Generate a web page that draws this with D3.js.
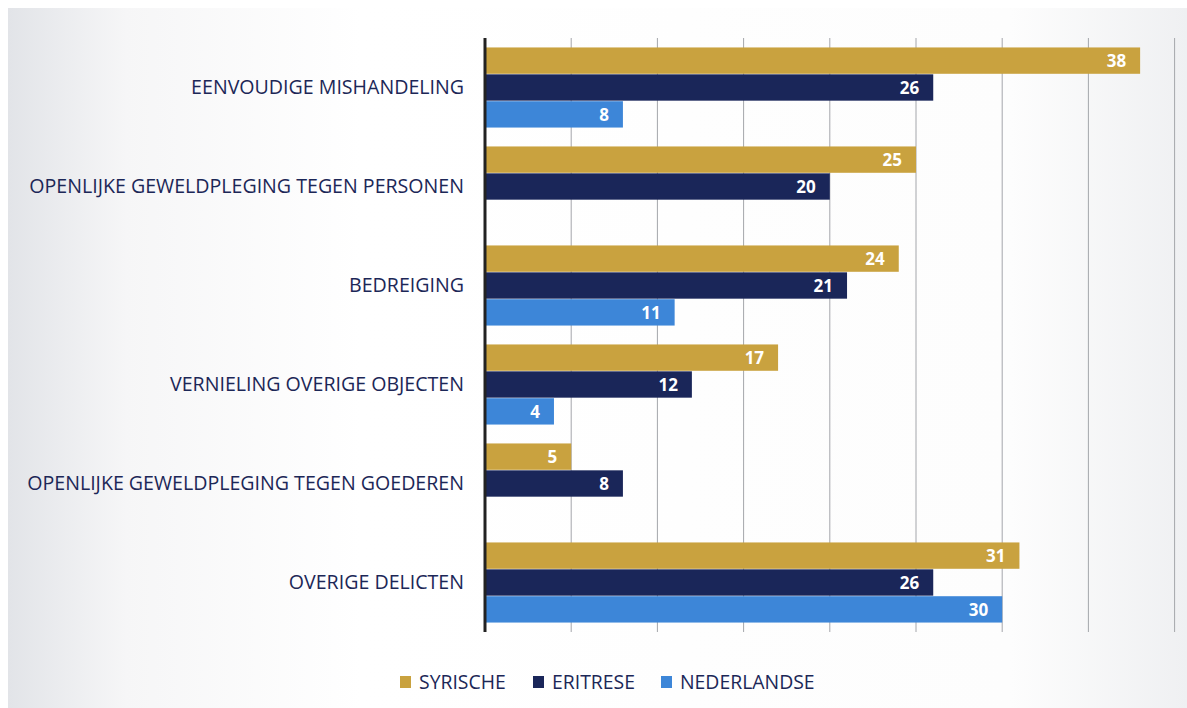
<!DOCTYPE html>
<html>
<head>
<meta charset="utf-8">
<script src="https://cdn.jsdelivr.net/npm/d3@7"></script>
<style>
  body { margin: 0; background: #fff; }
  text { font-family: "Open Sans", Lato, sans-serif; }
</style>
</head>
<body>
<div class="viz"></div>
<script>
var categories = [
    "EENVOUDIGE MISHANDELING",
    "OPENLIJKE GEWELDPLEGING TEGEN PERSONEN",
    "BEDREIGING",
    "VERNIELING OVERIGE OBJECTEN",
    "OPENLIJKE GEWELDPLEGING TEGEN GOEDEREN",
    "OVERIGE DELICTEN"
];
var seriesNames = ["SYRISCHE", "ERITRESE", "NEDERLANDSE"];
var syrische = [38, 25, 24, 17, 5, 31];
var eritrese = [26, 20, 21, 12, 8, 26];
var nederlandse = [8, null, 11, 4, null, 30];
var colors = ["#c9a23f", "#1a2659", "#3d86d8"];
var ticks = [0, 5, 10, 15, 20, 25, 30, 35, 40];

var width = 1187, height = 708;
var margin = {top: 38, left: 485, right: 13, bottom: 76};

var svg = d3.select('.viz').append('svg')
    .attr('width', width)
    .attr('height', height);

// scanned page background
var defs = svg.append('defs');
var grad = defs.append('linearGradient').attr('id', 'bg').attr('x1', 0).attr('x2', 1).attr('y1', 0).attr('y2', 0);
grad.append('stop').attr('offset', '0').attr('stop-color', '#e2e4e8');
grad.append('stop').attr('offset', '0.1').attr('stop-color', '#f6f6f7');
grad.append('stop').attr('offset', '0.3').attr('stop-color', '#ffffff');
grad.append('stop').attr('offset', '0.85').attr('stop-color', '#fdfdfd');
grad.append('stop').attr('offset', '1').attr('stop-color', '#eff0f2');
svg.append('rect')
    .attr('x', 8).attr('y', 8)
    .attr('width', width - 8).attr('height', height - 8)
    .attr('fill', 'url(#bg)');

var x = d3.scaleLinear()
    .domain([0, 40])
    .range([margin.left, margin.left + 17.24 * 40]);

var y = d3.scaleBand()
    .domain(categories)
    .range([margin.top, height - margin.bottom])
    .paddingInner(0.18)
    .paddingOuter(0.09);

var ySub = d3.scaleBand()
    .domain(seriesNames)
    .range([0, y.bandwidth()])
    .padding(0.02);

// grid
svg.append('g')
    .selectAll('line')
    .data(ticks.slice(1))
    .enter().append('line')
    .attr('x1', function(d) { return x(d); })
    .attr('x2', function(d) { return x(d); })
    .attr('y1', margin.top)
    .attr('y2', height - margin.bottom)
    .attr('stroke', '#a4a6ab')
    .attr('stroke-width', 1);

var rows = [];
categories.forEach(function(c, i) {
    [syrische, eritrese, nederlandse].forEach(function(s, j) {
        if (s[i] != null) rows.push({cat: c, series: seriesNames[j], value: s[i], color: colors[j]});
    });
});

var bars = svg.append('g').selectAll('g')
    .data(rows)
    .enter().append('g');

bars.append('rect')
    .attr('x', x(0))
    .attr('y', function(d) { return y(d.cat) + ySub(d.series); })
    .attr('width', function(d) { return x(d.value) - x(0); })
    .attr('height', ySub.bandwidth())
    .attr('fill', function(d) { return d.color; });

bars.append('text')
    .attr('x', function(d) { return x(d.value) - 14; })
    .attr('y', function(d) { return y(d.cat) + ySub(d.series) + ySub.bandwidth() / 2; })
    .attr('dy', '0.36em')
    .attr('text-anchor', 'end')
    .attr('fill', '#fff')
    .attr('font-weight', 'bold')
    .attr('font-size', '17px')
    .text(function(d) { return d.value; });

// category axis
var yAxis = svg.append('g')
    .attr('transform', 'translate(' + x(0) + ',0)')
    .call(d3.axisLeft(y).tickSize(0).tickPadding(21));
yAxis.select('.domain').remove();
yAxis.selectAll('text')
    .attr('fill', '#1c2757')
    .attr('font-size', '19.6px')
    .style('font-family', '"Open Sans", Lato, sans-serif');

svg.append('line')
    .attr('x1', x(0)).attr('x2', x(0))
    .attr('y1', margin.top).attr('y2', height - margin.bottom)
    .attr('stroke', '#222')
    .attr('stroke-width', 3);

// legend
var legendX = [400, 533, 661];
var legend = svg.append('g').selectAll('g')
    .data(seriesNames)
    .enter().append('g')
    .attr('transform', function(d, i) { return 'translate(' + legendX[i] + ',682)'; });
legend.append('rect')
    .attr('x', 0).attr('y', -6)
    .attr('width', 11).attr('height', 12)
    .attr('fill', function(d, i) { return colors[i]; });
legend.append('text')
    .attr('x', 19)
    .attr('dy', '0.36em')
    .attr('fill', '#1c2757')
    .attr('font-size', '19.4px')
    .text(function(d) { return d; });
</script>
</body>
</html>
